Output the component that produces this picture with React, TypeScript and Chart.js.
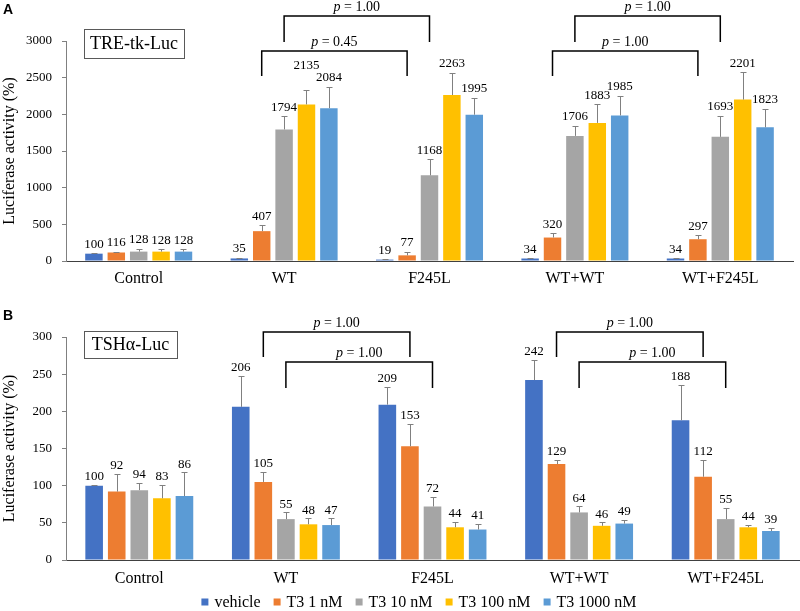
import React, { useEffect, useRef } from 'react';
import { Chart, registerables } from 'chart.js';

Chart.register(...registerables);

const SERIF = '"Liberation Serif", "Times New Roman", serif';
const SANS = '"Liberation Sans", Arial, sans-serif';

const categories = ['Control', 'WT', 'F245L', 'WT+WT', 'WT+F245L'];
const treatments = ['vehicle', 'T3 1 nM', 'T3 10 nM', 'T3 100 nM', 'T3 1000 nM'];
const treatmentColors = ['#4472C4', '#ED7D31', '#A5A5A5', '#FFC000', '#5B9BD5'];

// Panel A: TRE-tk-Luc, mean luciferase activity (%) per treatment
const treVehicle = [100, 35, 19, 34, 34];
const treT3_1 = [116, 407, 77, 320, 297];
const treT3_10 = [128, 1794, 1168, 1706, 1693];
const treT3_100 = [128, 2135, 2263, 1883, 2201];
const treT3_1000 = [128, 2084, 1995, 1985, 1823];

// Panel A: standard deviations
const treVehicleSd = [4, 6, 4, 5, 5];
const treT3_1Sd = [8, 80, 50, 57, 53];
const treT3_10Sd = [35, 180, 219, 135, 289];
const treT3_100Sd = [30, 197, 305, 254, 372];
const treT3_1000Sd = [33, 293, 232, 265, 250];

// Panel B: TSHα-Luc, mean luciferase activity (%) per treatment
const tshVehicle = [100, 206, 209, 242, 188];
const tshT3_1 = [92, 105, 153, 129, 112];
const tshT3_10 = [94, 55, 72, 64, 55];
const tshT3_100 = [83, 48, 44, 46, 44];
const tshT3_1000 = [86, 47, 41, 49, 39];

// Panel B: standard deviations
const tshVehicleSd = [1, 42, 24, 27, 48];
const tshT3_1Sd = [24, 14, 30, 5.5, 23];
const tshT3_10Sd = [10, 9, 13, 8, 15];
const tshT3_100Sd = [18, 8, 7.6, 5, 3];
const tshT3_1000Sd = [32, 9, 8, 5, 4.5];

// Axis ticks
const treTicks = { max: 3000, step: 500 };
const tshTicks = { max: 300, step: 50 };

// Pairwise comparisons: [series, category] endpoints, bracket top and leg ends in axis units
type Bracket = { from: [number, number]; to: [number, number]; top: number; leg: number; p: string };

const treBrackets: Bracket[] = [
  { from: [2, 1], to: [2, 2], top: 3341, leg: 2986, p: '1.00' },
  { from: [1, 1], to: [1, 2], top: 2864, leg: 2523, p: '0.45' },
  { from: [2, 3], to: [2, 4], top: 3341, leg: 2986, p: '1.00' },
  { from: [1, 3], to: [1, 4], top: 2864, leg: 2523, p: '1.00' },
];

const tshBrackets: Bracket[] = [
  { from: [1, 1], to: [1, 2], top: 306.7, leg: 273, p: '1.00' },
  { from: [2, 1], to: [2, 2], top: 266.4, leg: 231.4, p: '1.00' },
  { from: [1, 3], to: [1, 4], top: 306.7, leg: 273, p: '1.00' },
  { from: [2, 3], to: [2, 4], top: 266.4, leg: 231.4, p: '1.00' },
];

interface PanelSpec {
  tag: string;
  reporter: string;
  means: number[][];
  sds: number[][];
  ticks: { max: number; step: number };
  brackets: Bracket[];
  lifts: [number, number, number][];
  height: number;
  padTop: number;
  padRight: number;
  xHeight: number;
  xPad: number;
  box: { x: number; y: number; w: number; h: number };
  tagY: number;
  labelGap: number;
  legend: boolean;
}

const panels: PanelSpec[] = [
  {
    tag: 'A',
    reporter: 'TRE-tk-Luc',
    means: [treVehicle, treT3_1, treT3_10, treT3_100, treT3_1000],
    sds: [treVehicleSd, treT3_1Sd, treT3_10Sd, treT3_100Sd, treT3_1000Sd],
    ticks: treTicks,
    brackets: treBrackets,
    lifts: [[3, 1, 15]],
    height: 300,
    padTop: 41,
    padRight: 7,
    xHeight: 39,
    xPad: 8,
    box: { x: 84, y: 29, w: 100, h: 29 },
    tagY: 10,
    labelGap: 9,
    legend: false,
  },
  {
    tag: 'B',
    reporter: 'TSHα-Luc',
    means: [tshVehicle, tshT3_1, tshT3_10, tshT3_100, tshT3_1000],
    sds: [tshVehicleSd, tshT3_1Sd, tshT3_10Sd, tshT3_100Sd, tshT3_1000Sd],
    ticks: tshTicks,
    brackets: tshBrackets,
    lifts: [],
    height: 311,
    padTop: 37,
    padRight: 1,
    xHeight: 51,
    xPad: 9,
    box: { x: 84, y: 31, w: 93, h: 27 },
    tagY: 16,
    labelGap: 8,
    legend: true,
  },
];

function drawOverlay(chart: any, spec: PanelSpec) {
  const ctx: CanvasRenderingContext2D = chart.ctx;
  const y = chart.scales.y;

  // error bars
  ctx.save();
  ctx.strokeStyle = '#808080';
  ctx.lineWidth = 1;
  spec.means.forEach((series, s) => {
    const meta = chart.getDatasetMeta(s);
    series.forEach((m, c) => {
      const el = meta.data[c];
      const top = Math.round(y.getPixelForValue(m + spec.sds[s][c])) + 0.5;
      const x = Math.round(el.x) + 0.5;
      ctx.beginPath();
      ctx.moveTo(x, el.y);
      ctx.lineTo(x, top);
      ctx.moveTo(x - 3, top);
      ctx.lineTo(x + 3, top);
      ctx.stroke();
    });
  });
  ctx.restore();

  // value labels
  ctx.save();
  ctx.fillStyle = '#000';
  ctx.font = `13px ${SERIF}`;
  ctx.textAlign = 'center';
  ctx.textBaseline = 'middle';
  spec.means.forEach((series, s) => {
    const meta = chart.getDatasetMeta(s);
    series.forEach((m, c) => {
      const el = meta.data[c];
      const lift = spec.lifts.find((l) => l[0] === s && l[1] === c);
      const top = y.getPixelForValue(m + spec.sds[s][c]);
      ctx.fillText(String(m), el.x, top - spec.labelGap - (lift ? lift[2] : 0));
    });
  });
  ctx.restore();

  // comparison brackets
  ctx.save();
  ctx.strokeStyle = '#000';
  ctx.lineWidth = 1.5;
  ctx.fillStyle = '#000';
  ctx.textBaseline = 'middle';
  spec.brackets.forEach((b) => {
    const x1 = chart.getDatasetMeta(b.from[0]).data[b.from[1]].x;
    const x2 = chart.getDatasetMeta(b.to[0]).data[b.to[1]].x;
    const yt = y.getPixelForValue(b.top);
    const yl = y.getPixelForValue(b.leg);
    ctx.beginPath();
    ctx.moveTo(x1, yl);
    ctx.lineTo(x1, yt);
    ctx.lineTo(x2, yt);
    ctx.lineTo(x2, yl);
    ctx.stroke();
    const pPart = 'p';
    const rest = ` = ${b.p}`;
    ctx.font = `italic 14px ${SERIF}`;
    const w1 = ctx.measureText(pPart).width;
    ctx.font = `14px ${SERIF}`;
    const w2 = ctx.measureText(rest).width;
    let tx = (x1 + x2) / 2 - (w1 + w2) / 2;
    const ty = yt - 9;
    ctx.textAlign = 'left';
    ctx.font = `italic 14px ${SERIF}`;
    ctx.fillText(pPart, tx, ty);
    tx += w1;
    ctx.font = `14px ${SERIF}`;
    ctx.fillText(rest, tx, ty);
  });
  ctx.restore();

  // reporter box
  ctx.save();
  ctx.strokeStyle = '#595959';
  ctx.lineWidth = 1;
  const bx = spec.box;
  ctx.strokeRect(bx.x + 0.5, bx.y + 0.5, bx.w, bx.h);
  ctx.fillStyle = '#000';
  ctx.font = `18px ${SERIF}`;
  ctx.textAlign = 'center';
  ctx.textBaseline = 'middle';
  ctx.fillText(spec.reporter, bx.x + bx.w / 2, bx.y + bx.h / 2 + 1);
  ctx.restore();

  // panel tag
  ctx.save();
  ctx.fillStyle = '#000';
  ctx.font = `bold 14px ${SANS}`;
  ctx.textAlign = 'left';
  ctx.textBaseline = 'middle';
  ctx.fillText(spec.tag, 3, spec.tagY);
  ctx.restore();

  // legend
  if (spec.legend) {
    ctx.save();
    ctx.font = `16px ${SERIF}`;
    ctx.textBaseline = 'middle';
    ctx.textAlign = 'left';
    const box = 7;
    const gapIn = 6;
    const gapOut = 13;
    const widths = treatments.map((t) => ctx.measureText(t).width);
    const total = widths.reduce((a, w) => a + box + gapIn + w, 0) + gapOut * (treatments.length - 1);
    let lx = 419 - total / 2;
    const ly = chart.height - 9;
    treatments.forEach((t, i) => {
      ctx.fillStyle = treatmentColors[i];
      ctx.fillRect(lx, ly - box / 2, box, box);
      lx += box + gapIn;
      ctx.fillStyle = '#000';
      ctx.fillText(t, lx, ly + 1);
      lx += widths[i] + gapOut;
    });
    ctx.restore();
  }
}

function Panel({ spec }: { spec: PanelSpec }) {
  const ref = useRef<HTMLCanvasElement | null>(null);

  useEffect(() => {
    if (!ref.current) return;
    const chart = new Chart(ref.current, {
      type: 'bar',
      data: {
        labels: categories,
        datasets: spec.means.map((data, i) => ({
          label: treatments[i],
          data,
          backgroundColor: treatmentColors[i],
          borderWidth: 0,
          categoryPercentage: 0.77,
          barPercentage: 0.78,
        })),
      },
      options: {
        animation: false,
        responsive: false,
        maintainAspectRatio: false,
        layout: { padding: { top: spec.padTop, right: spec.padRight, bottom: 0, left: 0 } },
        plugins: { legend: { display: false }, tooltip: { enabled: false } },
        scales: {
          x: {
            grid: { display: true, drawOnChartArea: false, drawTicks: false },
            border: { display: true, color: '#404040', width: 1 },
            ticks: {
              color: '#000',
              font: { family: SERIF, size: 16 },
              padding: spec.xPad,
              maxRotation: 0,
              autoSkip: false,
            },
            afterFit: (s: any) => {
              s.height = spec.xHeight;
            },
          },
          y: {
            min: 0,
            max: spec.ticks.max,
            ticks: {
              stepSize: spec.ticks.step,
              color: '#000',
              font: { family: SERIF, size: 13 },
              padding: 10,
              callback: (v: any) => String(v),
            },
            grid: { drawOnChartArea: false, drawTicks: true, tickLength: 4, color: '#808080' },
            border: { display: true, color: '#808080', width: 1 },
            title: {
              display: true,
              text: 'Luciferase activity (%)',
              color: '#000',
              font: { family: SERIF, size: 16 },
              padding: 0,
            },
            afterFit: (s: any) => {
              s.width = 66;
            },
          },
        },
      },
      plugins: [
        {
          id: 'panelOverlay',
          afterDraw: (c: any) => drawOverlay(c, spec),
        },
      ],
    });
    return () => chart.destroy();
  }, [spec]);

  return <canvas ref={ref} width={800} height={spec.height} style={{ display: 'block' }} />;
}

export default function App() {
  return (
    <div style={{ position: 'absolute', left: 0, top: 0, width: 800, height: 611, background: '#fff' }}>
      {panels.map((p) => (
        <Panel key={p.tag} spec={p} />
      ))}
    </div>
  );
}
